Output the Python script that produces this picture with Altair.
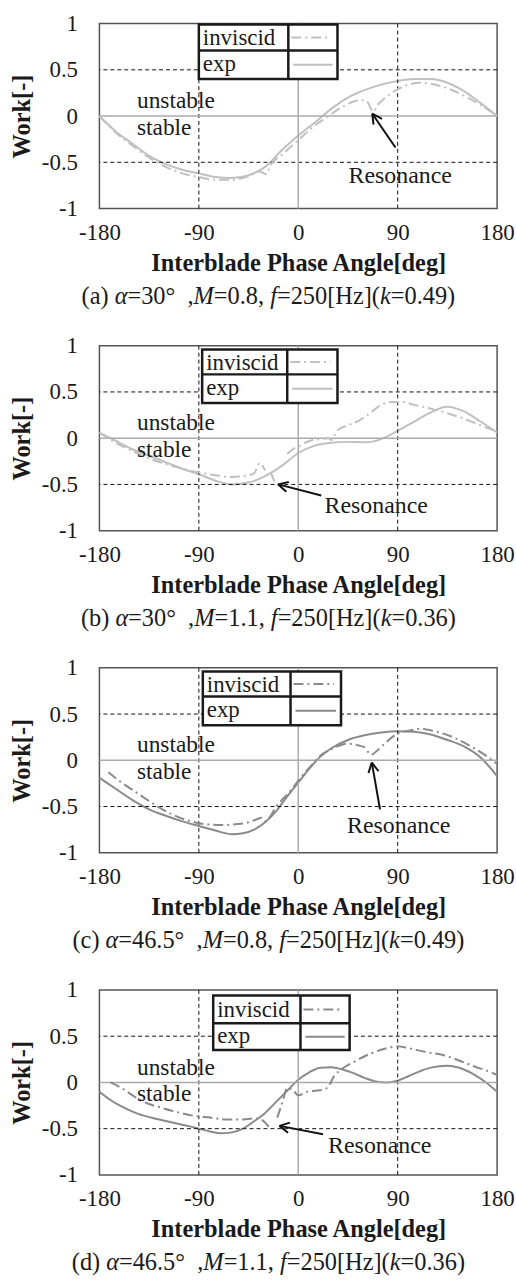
import math
import altair as alt
import pandas as pd

FONT = "Liberation Serif"
W, H = 400, 186
KX = W / 360.0   # px per degree
KY = H / 2.0     # px per unit of work

# ---------------- (a) alpha=30, M=0.8 ----------------
a_exp_ang = [-180, -165, -150, -135, -120, -105, -90, -75, -60, -45, -30, -15, 0, 15, 30, 45, 60, 75, 90, 105, 120, 135, 150, 165, 180]
a_exp_work = [0.00, -0.17, -0.30, -0.43, -0.52, -0.58, -0.62, -0.66, -0.67, -0.64, -0.55, -0.37, -0.21, -0.07, 0.08, 0.20, 0.28, 0.34, 0.38, 0.40, 0.40, 0.36, 0.27, 0.14, 0.00]
a_inv_ang = [-180, -165, -150, -135, -120, -105, -90, -75, -60, -45, -35, -29, -25, -15, 0, 15, 25, 40, 55, 61, 68, 72, 80, 90, 100, 110, 120, 135, 150, 165, 180]
a_inv_work = [0.00, -0.18, -0.32, -0.45, -0.55, -0.62, -0.66, -0.69, -0.69, -0.65, -0.60, -0.63, -0.53, -0.42, -0.26, -0.10, -0.02, 0.10, 0.17, 0.17, 0.05, 0.12, 0.21, 0.29, 0.34, 0.36, 0.35, 0.30, 0.22, 0.12, 0.00]

# ---------------- (b) alpha=30, M=1.1 ----------------
b_exp_ang = [-180, -165, -150, -135, -120, -105, -90, -75, -60, -45, -30, -15, 0, 15, 30, 45, 60, 75, 90, 105, 120, 135, 150, 165, 180]
b_exp_work = [0.06, -0.03, -0.12, -0.19, -0.26, -0.33, -0.39, -0.46, -0.50, -0.48, -0.41, -0.30, -0.16, -0.08, -0.05, -0.04, -0.045, -0.01, 0.08, 0.18, 0.28, 0.34, 0.29, 0.18, 0.06]
b_inv_ang = [-180, -165, -150, -135, -120, -105, -90, -75, -60, -50, -40, -35, -30, None, -25, -20, None, -10, -5, 0, 10, 20, 27, 30, 35, 45, 55, 65, 75, 85, 95, 105, 120, 135, 150, 165, 180]
b_inv_work = [0.06, -0.05, -0.14, -0.22, -0.28, -0.33, -0.37, -0.40, -0.42, -0.41, -0.38, -0.27, -0.35, None, -0.37, -0.51, None, -0.17, -0.12, -0.09, -0.03, -0.01, 0.00, -0.02, 0.08, 0.14, 0.19, 0.27, 0.36, 0.39, 0.39, 0.36, 0.32, 0.27, 0.21, 0.14, 0.07]

# ---------------- (c) alpha=46.5, M=0.8 ----------------
c_exp_ang = [-180, -165, -150, -135, -120, -105, -90, -75, -60, -50, -40, -30, -20, -10, 0, 10, 20, 30, 45, 60, 75, 90, 105, 120, 135, 150, 165, 180]
c_exp_work = [-0.19, -0.31, -0.43, -0.53, -0.60, -0.66, -0.71, -0.76, -0.80, -0.79, -0.75, -0.67, -0.55, -0.39, -0.24, -0.09, 0.04, 0.13, 0.22, 0.27, 0.30, 0.315, 0.31, 0.28, 0.22, 0.15, 0.03, -0.17]
c_inv_ang = [-172, -160, -145, -130, -115, -100, -85, -70, -55, -45, -38, -33, -30, -25, -20, -15, -10, -5, 0, 10, 20, 30, 45, 55, 60, 66, 71, 80, 90, 100, 110, 125, 140, 155, 170, 180]
c_inv_work = [-0.13, -0.24, -0.36, -0.48, -0.58, -0.65, -0.69, -0.70, -0.69, -0.67, -0.64, -0.62, -0.66, -0.60, -0.50, -0.43, -0.37, -0.30, -0.22, -0.08, 0.05, 0.12, 0.18, 0.16, 0.14, 0.06, 0.10, 0.20, 0.29, 0.32, 0.34, 0.31, 0.25, 0.16, 0.05, -0.04]

# ---------------- (d) alpha=46.5, M=1.1 ----------------
d_exp_ang = [-180, -170, -160, -145, -130, -115, -100, -90, -80, -70, -60, -50, -40, -30, -20, -10, 0, 10, 20, 30, 40, 50, 60, 70, 80, 90, 100, 110, 120, 135, 150, 160, 170, 180]
d_exp_work = [-0.10, -0.19, -0.26, -0.34, -0.39, -0.43, -0.47, -0.50, -0.53, -0.55, -0.54, -0.50, -0.42, -0.33, -0.21, -0.09, 0.03, 0.11, 0.16, 0.165, 0.14, 0.10, 0.05, 0.01, 0.00, 0.02, 0.07, 0.12, 0.16, 0.18, 0.14, 0.08, 0.00, -0.10]
d_inv_ang = [-170, -160, -150, -140, -125, -110, -95, -80, -65, -50, -40, -34, -25, None, -19, -14, -10, -5, 0, 8, 15, 22, 27, 32, 40, 50, 65, 80, 90, 100, 115, 130, 145, 160, 170, 180]
d_inv_work = [0.00, -0.06, -0.14, -0.21, -0.27, -0.32, -0.36, -0.38, -0.40, -0.40, -0.39, -0.40, -0.51, None, -0.38, -0.20, -0.06, -0.08, -0.14, -0.10, -0.09, -0.08, -0.05, 0.06, 0.15, 0.22, 0.31, 0.37, 0.39, 0.37, 0.33, 0.30, 0.24, 0.17, 0.13, 0.08]

# Axis ticks
x_ticks = [-180, -90, 0, 90, 180]
y_ticks = [-1, -0.5, 0, 0.5, 1]

# Panel captions: (text, italic)
captions = {
    "a": [("(a) ", 0), ("α", 1), ("=30°  ", 0), (",", 0), ("M", 1), ("=0.8, ", 0), ("f", 1), ("=250[Hz](", 0), ("k", 1), ("=0.49)", 0)],
    "b": [("(b) ", 0), ("α", 1), ("=30°  ", 0), (",", 0), ("M", 1), ("=1.1, ", 0), ("f", 1), ("=250[Hz](", 0), ("k", 1), ("=0.36)", 0)],
    "c": [("(c) ", 0), ("α", 1), ("=46.5°  ", 0), (",", 0), ("M", 1), ("=0.8, ", 0), ("f", 1), ("=250[Hz](", 0), ("k", 1), ("=0.49)", 0)],
    "d": [("(d) ", 0), ("α", 1), ("=46.5°  ", 0), (",", 0), ("M", 1), ("=1.1, ", 0), ("f", 1), ("=250[Hz](", 0), ("k", 1), ("=0.36)", 0)],
}

# Layout of the annotations, in data units
panel_style = {
    "a": dict(color="#c0c0c0", legend=(-90, -9, 35.5, 0.99, 0.71, 0.40),
              res=(45.5, -0.65), head=(67, 0.025), tail=(88, -0.34)),
    "b": dict(color="#c0c0c0", legend=(-87, -10, 35.5, 0.96, 0.69, 0.38),
              res=(23.8, -0.73), head=(-18.1, -0.50), tail=(20.8, -0.62)),
    "c": dict(color="#8a8a8a", legend=(-86.4, -7, 38.7, 0.96, 0.69, 0.38),
              res=(44.1, -0.71), head=(66.6, -0.025), tail=(74, -0.53)),
    "d": dict(color="#8a8a8a", legend=(-77, 2, 46.5, 0.94, 0.64, 0.35),
              res=(27, -0.69), head=(-17, -0.47), tail=(22.4, -0.56)),
}

series = {
    "a": (a_exp_ang, a_exp_work, a_inv_ang, a_inv_work),
    "b": (b_exp_ang, b_exp_work, b_inv_ang, b_inv_work),
    "c": (c_exp_ang, c_exp_work, c_inv_ang, c_inv_work),
    "d": (d_exp_ang, d_exp_work, d_inv_ang, d_inv_work),
}

# Times-compatible advance widths (per 1000 em) for caption layout
NORMAL_W = {' ': 250, '(': 333, ')': 333, 'a': 444, 'b': 500, 'c': 444, 'd': 500, '=': 564,
            '°': 400, ',': 250, '.': 250, '[': 333, ']': 333, 'H': 722, 'z': 444}
for _ch in "0123456789":
    NORMAL_W[_ch] = 500
ITALIC_W = {'α': 520, 'M': 833, 'f': 278, 'k': 444}

INV_DASH = [10, 4, 2, 4]
ONE = pd.DataFrame({"k": [0]})

X_AXIS = alt.Axis(values=x_ticks, title="Interblade Phase Angle[deg]", labelExpr="'' + datum.value")
Y_AXIS = alt.Axis(values=y_ticks, title="Work[-]", labelExpr="'' + datum.value")
XS = alt.Scale(domain=[-180, 180], nice=False, zero=False)
YS = alt.Scale(domain=[-1, 1], nice=False, zero=False)


def to_frame(angles, works):
    rows, seg = [], 0
    for a, w in zip(angles, works):
        if w is None:
            seg += 1
            continue
        rows.append({"angle": a, "work": w, "seg": seg})
    return pd.DataFrame(rows)


def rule(x, y, x2, y2, color="#111", width=2.0):
    return alt.Chart(ONE).mark_rule(color=color, strokeWidth=width).encode(
        x=alt.datum(x), y=alt.datum(y), x2=alt.datum(x2), y2=alt.datum(y2))


def text_at(x, y, s, size=23.5, align="left"):
    return alt.Chart(ONE).mark_text(text=s, font=FONT, fontSize=size, align=align,
                                    baseline="middle", color="#1a1a1a").encode(
        x=alt.datum(x), y=alt.datum(y))


def arrow(head, tail, length=11.0, spread=28.0):
    hx, hy = head
    tx, ty = tail
    vx, vy = (tx - hx) * KX, -(ty - hy) * KY
    n = math.hypot(vx, vy)
    ux, uy = vx / n, vy / n
    parts = [rule(tx, ty, hx, hy)]
    for s in (spread, -spread):
        r = math.radians(s)
        bx = ux * math.cos(r) - uy * math.sin(r)
        by = ux * math.sin(r) + uy * math.cos(r)
        ex = hx + length * bx / KX
        ey = hy - length * by / KY
        parts.append(rule(hx, hy, ex, ey))
    return parts


def caption(parts, size=24.5, center=170, y=H + 89):
    widths = [sum((ITALIC_W if it else NORMAL_W)[c] for c in t) * size / 1000.0 for t, it in parts]
    x = center - sum(widths) / 2.0
    out = []
    for (t, it), w in zip(parts, widths):
        out.append(alt.Chart(ONE).mark_text(
            text=t.rstrip(), font=FONT, fontSize=size, align="left", baseline="middle",
            fontStyle="italic" if it else "normal", color="#1a1a1a").encode(
            x=alt.value(x), y=alt.value(y)))
        x += w
    return out


def panel(key):
    st = panel_style[key]
    ea, ew, ia, iw = series[key]
    exp_df = to_frame(ea, ew)
    inv_df = to_frame(ia, iw)
    col = st["color"]

    grid = []
    for v in (-90, 90):
        grid.append(alt.Chart(ONE).mark_rule(color="#111", strokeWidth=1, strokeDash=[4, 3]).encode(x=alt.datum(v)))
    for v in (-0.5, 0.5):
        grid.append(alt.Chart(ONE).mark_rule(color="#111", strokeWidth=1, strokeDash=[4, 3]).encode(y=alt.datum(v)))
    grid.append(alt.Chart(ONE).mark_rule(color="#aaaaaa", strokeWidth=1.5).encode(x=alt.datum(0)))
    grid.append(alt.Chart(ONE).mark_rule(color="#aaaaaa", strokeWidth=1.5).encode(y=alt.datum(0)))

    x0, xm, x1, yt, ymid, yb = st["legend"]
    px = 1.0 / KX
    legend = [
        alt.Chart(ONE).mark_rect(fill="white", stroke="#1a1a1a", strokeWidth=2.5).encode(
            x=alt.datum(x0), x2=alt.datum(x1), y=alt.datum(yt), y2=alt.datum(yb)),
        rule(xm, yt, xm, yb, color="#1a1a1a", width=2.5),
        rule(x0, ymid, x1, ymid, color="#1a1a1a", width=2.5),
        text_at(x0 + 4 * px, (yt + ymid) / 2 - 0.01, "inviscid", size=23),
        text_at(x0 + 4 * px, (ymid + yb) / 2 + 0.01, "exp", size=23),
        alt.Chart(ONE).mark_rule(color=col, strokeWidth=2, strokeDash=INV_DASH).encode(
            x=alt.datum(xm + 3 * px), x2=alt.datum(x1 - 7 * px), y=alt.datum((yt + ymid) / 2)),
        alt.Chart(ONE).mark_rule(color=col, strokeWidth=2).encode(
            x=alt.datum(xm + 5 * px), x2=alt.datum(x1 - 5 * px), y=alt.datum((ymid + yb) / 2)),
    ]

    exp_line = alt.Chart(exp_df).mark_line(color=col, strokeWidth=2, interpolate="monotone").encode(
        x=alt.X("angle:Q", scale=XS, axis=X_AXIS),
        y=alt.Y("work:Q", scale=YS, axis=Y_AXIS),
        detail="seg:N",
    )
    inv_line = alt.Chart(inv_df).mark_line(color=col, strokeWidth=2, strokeDash=INV_DASH,
                                           interpolate="monotone").encode(
        x=alt.X("angle:Q", scale=XS, axis=X_AXIS),
        y=alt.Y("work:Q", scale=YS, axis=Y_AXIS),
        detail="seg:N")

    notes = [
        text_at(-146, 0.16, "unstable"),
        text_at(-146, -0.13, "stable"),
        text_at(st["res"][0], st["res"][1], "Resonance", size=24),
    ]
    notes += arrow(st["head"], st["tail"])

    layers = [exp_line] + grid + legend + [inv_line] + notes + caption(captions[key])
    return alt.layer(*layers).properties(width=W, height=H)


chart = alt.vconcat(*[panel(k) for k in "abcd"], spacing=24).properties(
    padding={"top": 8, "left": 8, "right": 1, "bottom": 2}
).configure_view(stroke="#555555", strokeWidth=1.5).configure_axis(
    labelFont=FONT, labelFontSize=23, labelColor="#1a1a1a",
    titleFont=FONT, titleFontSize=24.5, titleFontWeight="bold", titleColor="#1a1a1a",
    ticks=False, domain=False, grid=False, labelFlush=False, labelOverlap=False,
).configure_axisX(labelPadding=13, titlePadding=7).configure_axisY(labelPadding=22, titlePadding=7)

chart.save("out.html", embed_options={"renderer": "svg", "actions": False})
